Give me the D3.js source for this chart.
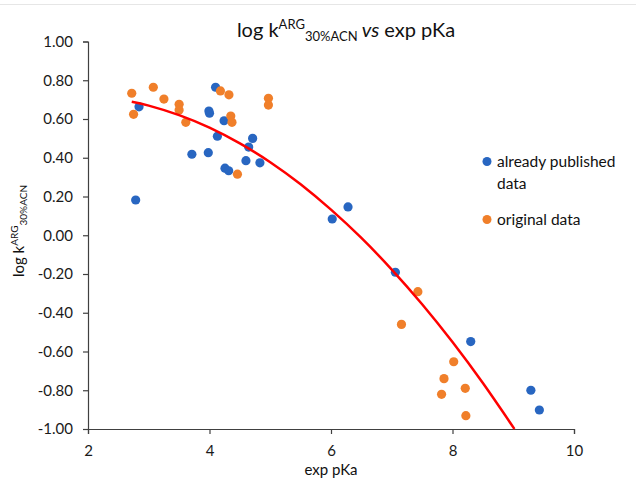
<!DOCTYPE html>
<html><head><meta charset="utf-8">
<script src="https://cdn.jsdelivr.net/npm/d3@7"></script>
<style>body{margin:0;background:#fff;} svg{display:block;font-family:Lato,"Open Sans",sans-serif;}</style>
</head><body>
<svg id="chart" width="636" height="486"></svg>
<script>
// ---- data ----
const publishedX = [2.84, 4.10, 3.99, 4.00, 4.24, 4.13, 4.71, 4.645, 3.71, 3.98, 4.60, 4.83, 4.255, 4.316, 2.785, 6.28, 6.02, 7.06, 8.30, 9.29, 9.43];
const publishedY = [0.663, 0.764, 0.641, 0.630, 0.591, 0.511, 0.500, 0.455, 0.418, 0.426, 0.385, 0.374, 0.346, 0.333, 0.182, 0.146, 0.084, -0.191, -0.549, -0.800, -0.902];
const originalX = [2.72, 3.075, 3.25, 3.50, 3.50, 3.61, 2.75, 4.18, 4.32, 4.97, 4.97, 4.35, 4.37, 4.46, 7.43, 7.16, 8.02, 7.86, 7.82, 8.21, 8.22];
const originalY = [0.733, 0.764, 0.703, 0.676, 0.646, 0.583, 0.624, 0.745, 0.725, 0.707, 0.672, 0.615, 0.583, 0.315, -0.291, -0.460, -0.653, -0.740, -0.821, -0.790, -0.931];
const trendX = [2.72, 3.0, 3.5, 4.0, 4.5, 5.0, 5.5, 6.0, 6.5, 7.0, 7.5, 8.0, 8.5, 9.02];
const trendY = [0.689, 0.669, 0.620, 0.555, 0.474, 0.377, 0.263, 0.132, -0.014, -0.177, -0.356, -0.551, -0.763, -1.0];
const xTicks = [2, 4, 6, 8, 10];
const xTickLabels = ["2", "4", "6", "8", "10"];
const yTicks = [1.0, 0.8, 0.6, 0.4, 0.2, 0.0, -0.2, -0.4, -0.6, -0.8, -1.0];
const yTickLabels = ["1.00", "0.80", "0.60", "0.40", "0.20", "0.00", "-0.20", "-0.40", "-0.60", "-0.80", "-1.00"];
const seriesNames = ["already published", "original data"];
const colors = ["#2866c1", "#f07f2a"];

// ---- layout ----
const svg = d3.select("#chart");
const x = d3.scaleLinear().domain([2, 10]).range([88, 574]);
const y = d3.scaleLinear().domain([-1, 1]).range([429, 41.5]);

svg.append("line").attr("x1", 0).attr("x2", 636).attr("y1", 4.5).attr("y2", 4.5)
  .attr("stroke", "#e6e6e6").attr("stroke-width", 1);

// axes
const xAxis = d3.axisBottom(x).tickValues(xTicks).tickFormat((d, i) => xTickLabels[i]).tickSizeOuter(0).tickSize(5).tickPadding(11);
const yAxis = d3.axisLeft(y).tickValues(yTicks).tickFormat((d, i) => yTickLabels[i]).tickSizeOuter(0).tickSize(5).tickPadding(10);
const gx = svg.append("g").attr("transform", `translate(0,${y(-1)})`).call(xAxis);
const gy = svg.append("g").attr("transform", `translate(${x(2)},0)`).call(yAxis);
[gx, gy].forEach(g => {
  g.select(".domain").attr("stroke", "#404040").attr("stroke-width", 1.2);
  g.selectAll(".tick line").attr("stroke", "#404040").attr("stroke-width", 1.2);
  g.selectAll(".tick text").attr("fill", "#1a1a1a").style("font-size", "15px").style("font-family", "Lato, sans-serif");
});

// points
const pub = publishedX.map((v, i) => [v, publishedY[i]]);
const orig = originalX.map((v, i) => [v, originalY[i]]);
svg.append("g").selectAll("circle").data(pub).join("circle")
  .attr("cx", d => x(d[0])).attr("cy", d => y(d[1])).attr("r", 4.6).attr("fill", colors[0]);
svg.append("g").selectAll("circle").data(orig).join("circle")
  .attr("cx", d => x(d[0])).attr("cy", d => y(d[1])).attr("r", 4.6).attr("fill", colors[1]);

// trend line
const trend = trendX.map((v, i) => [v, trendY[i]]);
svg.append("path").datum(trend)
  .attr("d", d3.line().x(d => x(d[0])).y(d => y(d[1])).curve(d3.curveNatural))
  .attr("fill", "none").attr("stroke", "#ff0000").attr("stroke-width", 2.5);

// title
const title = svg.append("text").attr("x", 346).attr("y", 37).attr("text-anchor", "middle")
  .attr("fill", "#111").style("font-size", "20px");
title.append("tspan").text("log k");
title.append("tspan").attr("dy", -8).style("font-size", "13px").text("ARG");
title.append("tspan").attr("dy", 12).style("font-size", "13px").text("30%ACN");
title.append("tspan").attr("dy", -4).style("font-style", "italic").text(" vs");
title.append("tspan").text(" exp pKa");

// y axis title
const yt = svg.append("text").attr("transform", "translate(24,231) rotate(-90)").attr("text-anchor", "middle")
  .attr("fill", "#111").style("font-size", "15px");
yt.append("tspan").text("log k");
yt.append("tspan").attr("dy", -6).style("font-size", "10px").text("ARG");
yt.append("tspan").attr("dy", 9).style("font-size", "10px").text("30%ACN");

// x axis title
svg.append("text").attr("x", 331).attr("y", 475).attr("text-anchor", "middle")
  .attr("fill", "#111").style("font-size", "15px").text("exp pKa");

// legend
const leg = svg.append("g");
const legY = [161.5, 219.5];
leg.selectAll("circle").data(seriesNames).join("circle")
  .attr("cx", 487).attr("cy", (d, i) => legY[i]).attr("r", 4.5).attr("fill", (d, i) => colors[i]);
leg.append("text").attr("x", 497).attr("y", 167).attr("fill", "#111").style("font-size", "15.5px").text(seriesNames[0]);
leg.append("text").attr("x", 497).attr("y", 189).attr("fill", "#111").style("font-size", "15.5px").text("data");
leg.append("text").attr("x", 497).attr("y", 225).attr("fill", "#111").style("font-size", "15.5px").text(seriesNames[1]);
</script>
</body></html>
